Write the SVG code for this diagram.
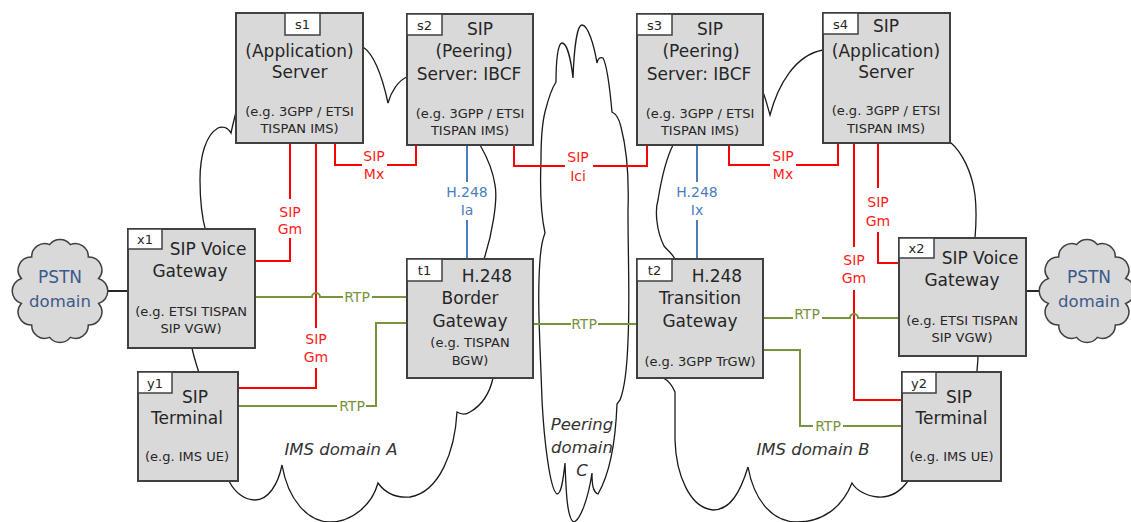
<svg xmlns="http://www.w3.org/2000/svg" xmlns:xlink="http://www.w3.org/1999/xlink" width="1131" height="522" viewBox="0 0 1131 522">
<defs>
<style>
.bg{fill:#ffffff}
.box{fill:#d9d9d9;stroke:#404040;stroke-width:2}
.tag{fill:#ffffff;stroke:#404040;stroke-width:1.5}
.t{font-family:"DejaVu Sans",sans-serif;font-size:17px;fill:#262626;text-anchor:middle}
.s{font-size:13px}
.tg{font-size:13px}
.dom{fill:none;stroke:#1a1a1a;stroke-width:1.3}
.dl{font-family:"DejaVu Sans",sans-serif;font-size:16.5px;font-style:italic;fill:#333333;text-anchor:middle}
.pstn{fill:#d9d9d9;stroke:#404040;stroke-width:1.5}
.pt{font-family:"DejaVu Sans",sans-serif;font-size:17px;fill:#3b5a8c;text-anchor:middle}
.red{fill:none;stroke:#ff0000;stroke-width:2}
.blue{fill:none;stroke:#4a7ebb;stroke-width:2}
.green{fill:none;stroke:#77933c;stroke-width:2}
.blk{fill:none;stroke:#262626;stroke-width:2}
.l{font-family:"DejaVu Sans",sans-serif;font-size:14px;text-anchor:middle}
.lr{fill:#ff1a1a}
.lb{fill:#4a7ebb}
.lg{fill:#77933c}
</style>
<path id="pcloud" d="M 38.64,12.42 A 13 13 0 0 1 28.28,33.94 A 13 13 0 0 1 10.35,46.36 A 13 13 0 0 1 -10.35,46.36 A 13 13 0 0 1 -28.28,33.94 A 13 13 0 0 1 -38.64,12.42 A 13 13 0 0 1 -38.64,-12.42 A 13 13 0 0 1 -28.28,-33.94 A 13 13 0 0 1 -10.35,-46.36 A 13 13 0 0 1 10.35,-46.36 A 13 13 0 0 1 28.28,-33.94 A 13 13 0 0 1 38.64,-12.42 A 13 13 0 0 1 38.64,12.42 Z"/>
</defs>
<rect class="bg" x="0" y="0" width="1131" height="522"/>

<g id="domains">
<path id="domainA" class="dom" d="M 236,112 C 234,120 232,128 231,133 C 228,127 222,126 218,128 C 206,135 200,155 200,180 C 200,200 202,218 206,232 L 192,348 C 194,358 197,366 199,373 L 229,481 C 235,493 245,500 255,500 C 268,500 278,485 282,465 C 288,500 308,522 330,522 C 352,522 372,505 378,483 C 386,494 398,498 410,497 C 440,492 455,450 457,412 C 462,415 467,414 470,412 C 482,405 490,392 493,378 L 484,259 C 492,235 498,200 495,185 C 492,165 484,152 480,145 L 409,76 C 398,80 391,92 388,103 C 383,80 375,55 363,47 Z"/>
<path id="domainC" class="dom" d="M 545,112 C 548,100 552,88 556,82 C 556,60 558,43 562,43 C 567,43 571,60 573,78 C 574,50 577,25 582,25 C 588,25 594,45 597,63 C 598,58 600,57 603,58 C 607,65 610,90 612,112 C 616,114 619,118 621,127 C 627,150 629,180 628,210 C 628,260 630,300 628,340 C 627,370 624,390 620,400 L 617,404 C 616,430 612,470 598,494 C 593,492 592,485 592,473 C 588,500 580,520 574,522 C 567,520 566,490 565,463 C 563,482 561,494 557,494 C 550,490 544,440 542,400 C 540,340 537,300 540,260 C 541,245 543,238 545,233 C 541,215 540,185 541,160 C 541,140 543,120 545,112 Z"/>
<path id="domainB" class="dom" d="M 763,92 C 766,100 768,108 770,115 C 778,85 795,55 823,50 L 950,142 C 962,152 972,172 975,195 C 977,212 976,226 975,238 L 978,357 C 978,362 977,367 977,372 L 908,481 C 900,492 890,498 878,497 C 866,496 856,490 852,483 C 842,508 822,522 797,522 C 772,522 754,500 748,467 C 740,493 730,510 713,510 C 690,508 676,475 675,440 L 675,392 C 672,385 668,380 663,378 L 675,259 C 671,252 667,250 664,246 C 656,230 655,210 658,200 C 662,175 668,155 673,145 Z"/>
<text class="dl" x="341" y="455">IMS domain A</text>
<text class="dl" x="813" y="455">IMS domain B</text>
<text class="dl" x="582" y="430">Peering</text>
<text class="dl" x="582" y="453">domain</text>
<text class="dl" x="582" y="476">C</text>
</g>

<g id="connectors">
<path class="blk" d="M 98,291 H 128"/>
<path class="blk" d="M 1026,291 H 1050"/>
<path class="red" d="M 290,143 V 199 M 290,238 V 261 H 255"/>
<text class="l lr" x="290" y="217">SIP</text>
<text class="l lr" x="290" y="234">Gm</text>
<path class="red" d="M 316,143 V 328 M 316,368 V 388 H 238"/>
<text class="l lr" x="316" y="344">SIP</text>
<text class="l lr" x="316" y="362">Gm</text>
<path class="red" d="M 335,143 V 165 H 362 M 387,165 H 416 V 145"/>
<text class="l lr" x="374" y="161">SIP</text>
<text class="l lr" x="374" y="179">Mx</text>
<path class="red" d="M 514,145 V 166 H 565 M 593,166 H 647 V 145"/>
<text class="l lr" x="578" y="162">SIP</text>
<text class="l lr" x="578" y="181">Ici</text>
<path class="red" d="M 729,145 V 165 H 770 M 796,165 H 838 V 143"/>
<text class="l lr" x="783" y="161">SIP</text>
<text class="l lr" x="783" y="179">Mx</text>
<path class="red" d="M 878,143 V 188 M 878,232 V 263 H 899"/>
<text class="l lr" x="878" y="207">SIP</text>
<text class="l lr" x="878" y="226">Gm</text>
<path class="red" d="M 854,143 V 247 M 854,290 V 400 H 902"/>
<text class="l lr" x="854" y="265">SIP</text>
<text class="l lr" x="854" y="283">Gm</text>
<path class="blue" d="M 467,145 V 182 M 467,220 V 259"/>
<text class="l lb" x="467" y="197">H.248</text>
<text class="l lb" x="467" y="215">Ia</text>
<path class="blue" d="M 697,145 V 182 M 697,220 V 259"/>
<text class="l lb" x="697" y="197">H.248</text>
<text class="l lb" x="697" y="215">Ix</text>
<path class="green" d="M 255,290 V 297 H 312 A 4 4 0 0 1 320,297 H 343 M 372,297 H 407"/>
<text class="l lg" x="357" y="302">RTP</text>
<path class="green" d="M 238,427 V 406 H 337 M 366,406 H 376 V 323 H 407"/>
<text class="l lg" x="352" y="411">RTP</text>
<path class="green" d="M 533,324 H 571 M 598,324 H 637"/>
<text class="l lg" x="584" y="329">RTP</text>
<path class="green" d="M 763,318 H 793 M 822,318 H 850 A 4 4 0 0 1 858,318 H 899"/>
<text class="l lg" x="807" y="319">RTP</text>
<path class="green" d="M 763,350 H 800 V 426 H 813 M 843,426 H 902"/>
<text class="l lg" x="828" y="431">RTP</text>
</g>

<g id="pstnA">
<use xlink:href="#pcloud" href="#pcloud" class="pstn" x="60" y="291"/>
<text class="pt" x="60" y="283">PSTN</text>
<text class="pt" x="60" y="307" style="font-size:16.5px">domain</text>
</g>
<g id="pstnB">
<use xlink:href="#pcloud" href="#pcloud" class="pstn" x="1087" y="291"/>
<text class="pt" x="1089" y="283">PSTN</text>
<text class="pt" x="1089" y="307" style="font-size:16.5px">domain</text>
</g>

<g id="s1">
<rect class="box" x="236" y="13" width="127" height="130"/>
<rect class="tag" x="285" y="13" width="35" height="22"/>
<text class="t tg" x="302.5" y="29">s1</text>
<text class="t" x="299.5" y="57">(Application)</text>
<text class="t" x="299.5" y="78">Server</text>
<text class="t s" x="299.5" y="116">(e.g. 3GPP / ETSI</text>
<text class="t s" x="299.5" y="133">TISPAN IMS)</text>
</g>
<g id="s2">
<rect class="box" x="407" y="14" width="126" height="131"/>
<rect class="tag" x="407" y="14" width="35" height="21"/>
<text class="t tg" x="424.5" y="30">s2</text>
<text class="t" x="480" y="35">SIP</text>
<text class="t" x="474" y="57">(Peering)</text>
<text class="t" x="469" y="80">Server: IBCF</text>
<text class="t s" x="470" y="118">(e.g. 3GPP / ETSI</text>
<text class="t s" x="470" y="135">TISPAN IMS)</text>
</g>
<g id="s3">
<rect class="box" x="637" y="14" width="126" height="131"/>
<rect class="tag" x="637" y="14" width="35" height="21"/>
<text class="t tg" x="654.5" y="30">s3</text>
<text class="t" x="710" y="35">SIP</text>
<text class="t" x="701" y="57">(Peering)</text>
<text class="t" x="699" y="80">Server: IBCF</text>
<text class="t s" x="700" y="118">(e.g. 3GPP / ETSI</text>
<text class="t s" x="700" y="135">TISPAN IMS)</text>
</g>
<g id="s4">
<rect class="box" x="823" y="13" width="127" height="130"/>
<rect class="tag" x="823" y="13" width="35" height="21"/>
<text class="t tg" x="840.5" y="29">s4</text>
<text class="t" x="886" y="32">SIP</text>
<text class="t" x="886" y="57">(Application)</text>
<text class="t" x="886" y="78">Server</text>
<text class="t s" x="886" y="115">(e.g. 3GPP / ETSI</text>
<text class="t s" x="886" y="133">TISPAN IMS)</text>
</g>
<g id="x1">
<rect class="box" x="128" y="229" width="127" height="119"/>
<rect class="tag" x="128" y="229" width="34" height="20"/>
<text class="t tg" x="145" y="244">x1</text>
<text class="t" x="208" y="255">SIP Voice</text>
<text class="t" x="190" y="277">Gateway</text>
<text class="t s" x="191" y="316">(e.g. ETSI TISPAN</text>
<text class="t s" x="191" y="333">SIP VGW)</text>
</g>
<g id="x2">
<rect class="box" x="899" y="238" width="127" height="118"/>
<rect class="tag" x="899" y="238" width="35" height="20"/>
<text class="t tg" x="916.5" y="253">x2</text>
<text class="t" x="980" y="264">SIP Voice</text>
<text class="t" x="962" y="286">Gateway</text>
<text class="t s" x="962" y="325">(e.g. ETSI TISPAN</text>
<text class="t s" x="962" y="342">SIP VGW)</text>
</g>
<g id="t1">
<rect class="box" x="407" y="259" width="126" height="119"/>
<rect class="tag" x="407" y="259" width="35" height="22"/>
<text class="t tg" x="424.5" y="275">t1</text>
<text class="t" x="487" y="282">H.248</text>
<text class="t" x="470" y="304">Border</text>
<text class="t" x="470" y="327">Gateway</text>
<text class="t s" x="470" y="347">(e.g. TISPAN</text>
<text class="t s" x="470" y="365">BGW)</text>
</g>
<g id="t2">
<rect class="box" x="637" y="259" width="126" height="119"/>
<rect class="tag" x="637" y="259" width="35" height="22"/>
<text class="t tg" x="654.5" y="275">t2</text>
<text class="t" x="717" y="282">H.248</text>
<text class="t" x="700" y="304">Transition</text>
<text class="t" x="700" y="327">Gateway</text>
<text class="t s" x="700" y="366">(e.g. 3GPP TrGW)</text>
</g>
<g id="y1">
<rect class="box" x="138" y="372" width="100" height="109"/>
<rect class="tag" x="138" y="372" width="34" height="21"/>
<text class="t tg" x="155" y="388">y1</text>
<text class="t" x="195" y="403">SIP</text>
<text class="t" x="187" y="424">Terminal</text>
<text class="t s" x="187" y="461">(e.g. IMS UE)</text>
</g>
<g id="y2">
<rect class="box" x="902" y="372" width="99" height="109"/>
<rect class="tag" x="902" y="372" width="34" height="21"/>
<text class="t tg" x="919" y="388">y2</text>
<text class="t" x="959" y="403">SIP</text>
<text class="t" x="951.5" y="424">Terminal</text>
<text class="t s" x="951.5" y="461">(e.g. IMS UE)</text>
</g>
</svg>
